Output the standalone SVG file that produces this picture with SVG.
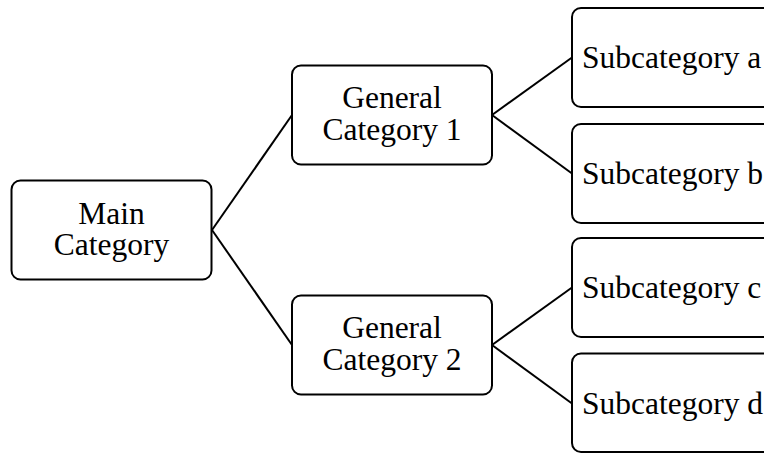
<svg xmlns="http://www.w3.org/2000/svg" width="764" height="453" viewBox="0 0 764 453">
<style>
.box{fill:#fff;stroke:#000;stroke-width:2}
.t{font-family:"Liberation Serif","Times New Roman",serif;font-size:31.5px;fill:#000}
.c{text-anchor:middle}
.edge{stroke:#000;stroke-width:2;fill:none}
</style>
<rect width="764" height="453" fill="#fff"/>
<g id="connectors">
<line class="edge" x1="212" y1="230" x2="292" y2="115"/>
<line class="edge" x1="212" y1="230" x2="292" y2="345"/>
<line class="edge" x1="492" y1="115" x2="572" y2="57.5"/>
<line class="edge" x1="492" y1="115" x2="572" y2="173.5"/>
<line class="edge" x1="492" y1="345" x2="572" y2="287.5"/>
<line class="edge" x1="492" y1="345" x2="572" y2="403.5"/>
</g>
<g id="main">
<rect class="box" x="11.5" y="180.5" width="200" height="99" rx="9"/>
<text class="t c" x="111.5" y="224">Main</text>
<text class="t c" x="111.5" y="255">Category</text>
</g>
<g id="general1">
<rect class="box" x="292" y="65.5" width="200" height="99" rx="9"/>
<text class="t c" x="392" y="108">General</text>
<text class="t c" x="392" y="140">Category 1</text>
</g>
<g id="general2">
<rect class="box" x="292" y="295.5" width="200" height="99" rx="9"/>
<text class="t c" x="392" y="338">General</text>
<text class="t c" x="392" y="370">Category 2</text>
</g>
<g id="suba">
<rect class="box" x="572" y="8" width="230" height="99" rx="9"/>
<text class="t" x="582" y="67.5">Subcategory a</text>
</g>
<g id="subb">
<rect class="box" x="572" y="124" width="230" height="99" rx="9"/>
<text class="t" x="582" y="183.5">Subcategory b</text>
</g>
<g id="subc">
<rect class="box" x="572" y="238" width="230" height="99" rx="9"/>
<text class="t" x="582" y="297.5">Subcategory c</text>
</g>
<g id="subd">
<rect class="box" x="572" y="353.5" width="230" height="98.5" rx="9"/>
<text class="t" x="582" y="413.5">Subcategory d</text>
</g>
</svg>
